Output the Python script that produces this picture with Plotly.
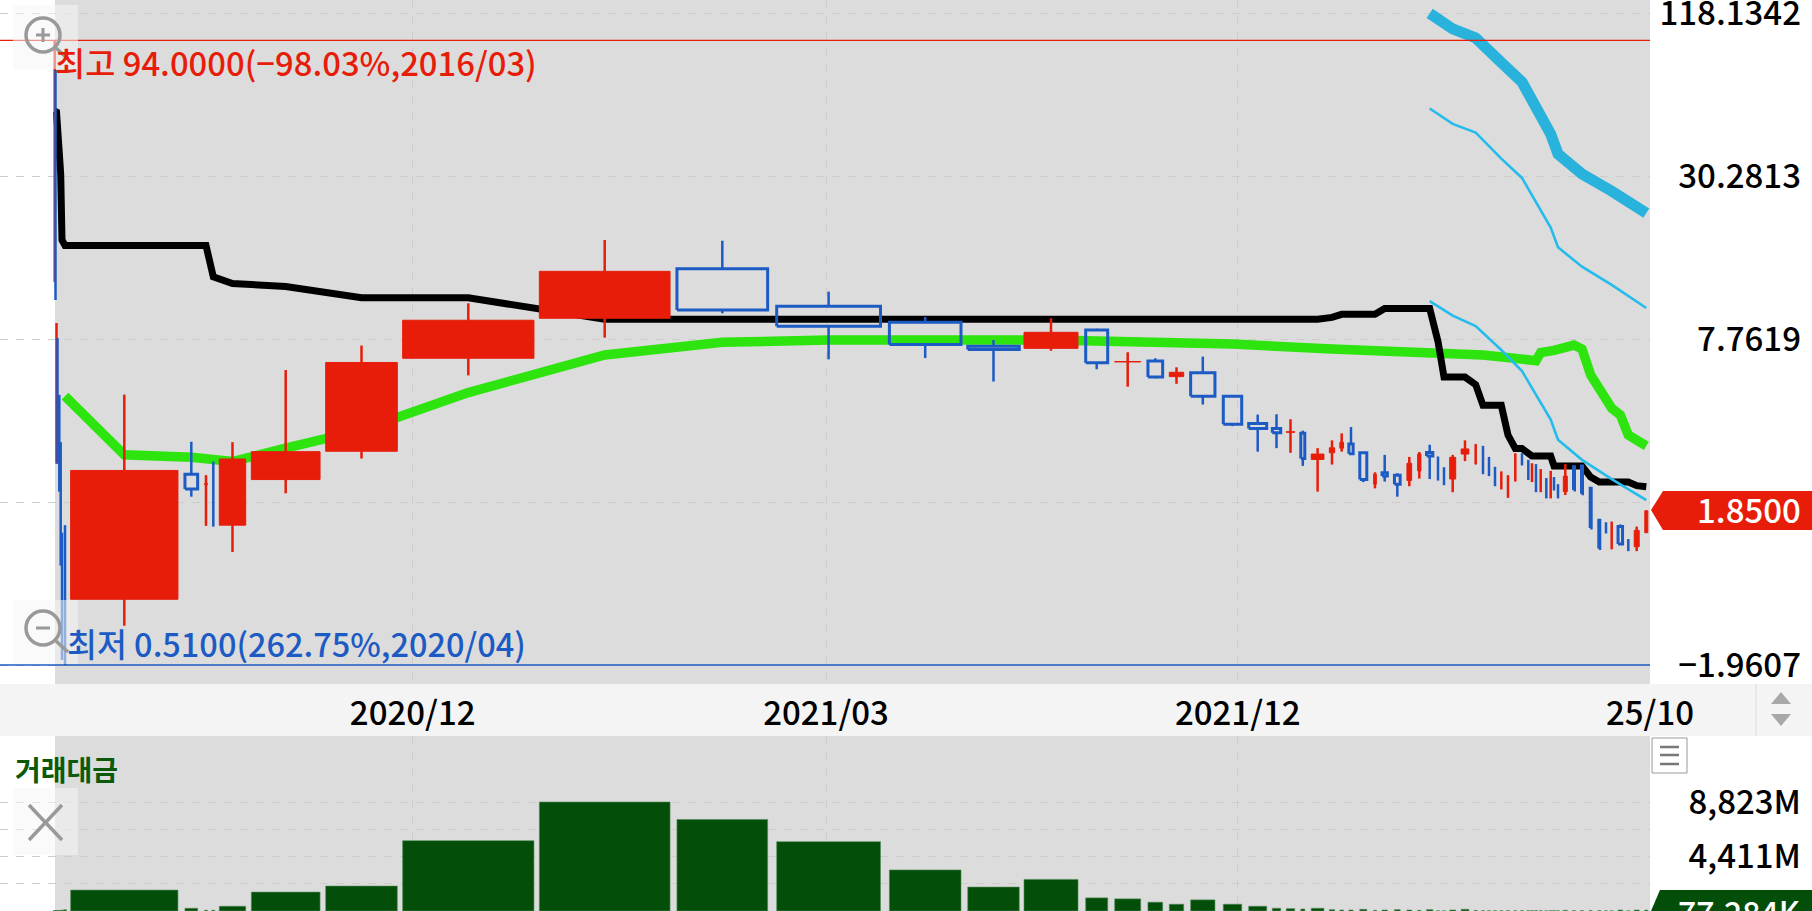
import plotly.graph_objects as go

# ---------- data ----------
# x position / width are the cumulative-turnover scale of the equivolume chart
turnover_pos = [54.7,55.5,56.5,57.5,59.3,60.7,62,65,
    124.3,191.3,206,213.3,232.5,285.7,361.5,468.3,604.7,722.3,828.6,925.2,993.5,1051,1096.7,1127.7,1155.3,1176.5,1202.8,1232.5,1257.7,1276.5,1290.5,1302.8,1317.6,1332,1341.7,1351,1363.3,1375,1384.7,1397.3,1409.3,1419.3,1429.7,1438,1444,1452.7,1465,1475.7,1483,1489,1495,1501.3,1508,1515.3,1522,1528.3,1532,1536,1540.7,1546.3,1550.7,1554,1558,1565.3,1574,1582,1590.7,1599.3,1606,1611.7,1620.3,1628.3,1636.7,1646.3]
turnover_width = [.5,.5,.5,.5,.5,.5,.5,.5,
    107.3,12.7,3,.5,26.4,68.7,71.6,131.3,130.7,90.7,103.8,71.6,51.5,54,22,26,14.7,14.4,24.3,18.4,18,8.4,8.4,4,12.7,5.3,3.7,4.3,7,2.7,5.3,5.7,4.7,3.3,6.3,.5,.5,6,7.7,1.5,.5,.5,.5,.5,.5,.5,.5,.5,.5,.5,.5,.5,.5,.5,.5,4,1,1,1,1,.5,.5,4.5,.5,5,3]
opens = [30,30,4.8,4.2,3.1,2.3,.9,.8,
    .883,2.51,2.30,2.2,1.64,2.40,3.04,6.61,9.23,13.96,10.20,8.93,7.30,7.18,8.37,6.41,6.46,5.67,5.86,4.81,3.83,3.68,3.56,3.53,2.84,3.00,3.12,3.23,3.00,2.31,2.54,2.49,2.38,2.58,3.01,2.66,2.46,2.41,2.97,2.73,2.85,2.68,2.47,2.36,2.25,2.60,2.85,2.61,2.52,2.46,2.34,2.24,2.28,2.33,2.18,2.17,2.67,2.69,2.23,1.71,1.61,1.49,1.62,1.40,1.37,1.54]
closes = [31,28,5.0,4.0,3.0,2.2,.85,.75,
    2.59,2.22,2.32,2.18,2.85,3.03,6.38,9.08,13.66,9.89,8.63,7.41,7.11,8.21,6.37,6.43,5.65,5.88,4.81,3.81,3.68,3.55,3.58,2.86,2.97,3.13,3.28,2.98,2.40,2.51,2.47,2.31,2.75,2.97,2.92,2.62,2.44,2.89,3.10,3.22,2.82,2.66,2.45,2.40,2.28,2.64,2.83,2.59,2.55,2.43,2.38,2.22,2.31,2.31,2.16,2.47,2.20,2.13,1.60,1.35,1.59,1.52,1.40,1.38,1.57,1.85]
highs = [94,73.4,8.87,7.83,4.87,3.28,1.54,1.64,
    4.88,3.29,2.49,2.79,3.28,5.99,7.35,10.46,17.75,17.64,11.53,9.33,7.70,9.23,8.46,6.95,6.61,6.13,6.70,4.85,4.13,4.14,3.97,3.61,3.12,3.33,3.53,3.72,3.01,2.55,2.95,2.53,2.90,3.02,3.21,2.91,2.66,2.95,3.33,3.22,3.18,2.90,2.67,2.57,2.49,2.99,2.99,2.83,2.75,2.73,2.62,2.43,2.58,2.45,2.31,2.73,2.67,2.69,2.23,1.71,1.68,1.69,1.65,1.46,1.62,1.85]
lows = [12.5,10.75,2.74,2.74,2.17,1.17,.532,.51,
    .708,2.08,1.63,1.62,1.31,2.14,2.86,5.73,7.85,9.62,6.55,6.62,5.44,7.04,6.03,5.21,5.59,5.34,4.49,3.75,3.03,3.12,3.00,2.69,2.17,2.72,3.03,2.97,2.35,2.23,2.36,2.08,2.27,2.42,2.41,2.38,2.29,2.16,2.80,2.73,2.51,2.47,2.27,2.21,2.06,2.36,2.70,2.39,2.35,2.16,2.16,2.05,2.05,2.19,2.05,2.11,2.20,2.13,1.60,1.35,1.53,1.34,1.39,1.32,1.32,1.54]
turnover_m = [30,30,30,30,40,40,60,100,
    1691,220,60,60,384,1528,2018,5694,8823,7410,5613,3325,1936,2557,1062,980,711,547,899,547,384,220,190,160,220,109,82,82,136,54,82,109,82,54,109,15,15,82,136,54,25,20,20,20,25,20,25,20,20,25,20,15,20,20,15,54,30,30,30,30,15,15,82,15,82,77]

black_idx = [0,2,5,6,7,10,11,12,13,14,15,16,32,33,34,37,38,42,43,44,46,47,48,51,52,53,54,56,60,61,65,66,67,71,72,73]
black_val = [52.1,51.7,30.8,17.75,16.95,16.95,13.05,12.34,12.03,10.95,10.95,9.16,9.16,9.30,9.54,9.54,10.02,10.02,7.60,5.65,5.65,5.30,4.46,4.46,3.48,3.11,3.11,2.92,2.92,2.69,2.69,2.45,2.35,2.35,2.28,2.26]
green_idx = [7,8,9,12,13,14,15,16,17,18,21,22,27,33,48,57,58,61,64,65,66,69,70,71,73]
green_val = [4.82,2.95,2.89,2.79,3.12,3.63,4.96,6.79,7.55,7.70,7.70,7.64,7.44,7.14,6.79,6.48,6.93,7.06,7.38,7.14,5.75,4.35,4.12,3.48,3.18]
cyan_idx = [42,45,47,51,54,60,62,65,69,73]
cyan_thick_val = [117.8,103.4,95.9,78.2,66.4,43.0,36.4,30.8,26.7,22.2]
cyan_upper_val = [53.2,46.8,43.5,35.0,29.8,19.7,16.7,14.2,12.2,10.06]
cyan_lower_val = [10.66,9.44,8.65,7.08,5.94,3.96,3.35,2.83,2.41,2.02]

price_ticks = [118.1342,30.2813,7.7619,1.9895,0.51]
price_labels = ["118.1342","30.2813","7.7619","","−1.9607"]
turnover_ticks = [8823,6617,4411,2206]
turnover_labels = ["8,823M","","4,411M",""]
date_ticks = [412.7,826,1237.8,1650]
date_labels = ["2020/12","2021/03","2021/12","25/10"]

# ---------- style ----------
W, H = 1812, 911
FONT = "Noto Sans CJK KR"
RED, BLUE, GREEN, DGREEN = "#E71D0A", "#1C5AC4", "#2DE40E", "#034F0A"
GRID, GRAY = "#CDCDCD", "#DCDCDC"
PX = lambda x: x / W
PY = lambda y: 1 - y / H

def candles(rising):
    bx, by, wx, wy = [], [], [], []
    for x, w, o, c, hi, lo in zip(turnover_pos, turnover_width, opens, closes, highs, lows):
        if (c >= o) != rising:
            continue
        top, bot = max(o, c), min(o, c)
        l, r = x - w / 2, x + w / 2
        if w < 1:  # hairline sessions: wick only
            wx += [x, x, None]
            wy += [hi, lo, None]
            continue
        bx += [l, r, r, l, l, None]
        by += [bot, bot, top, top, bot, None]
        wx += [x, x, None, x, x, None]
        wy += [hi, top, None, bot, lo, None]
    return bx, by, wx, wy

fig = go.Figure()
line_x = lambda idx: [turnover_pos[i] for i in idx]
def add_line(idx, val, color, width):
    fig.add_trace(go.Scatter(x=line_x(idx), y=val, mode="lines", line=dict(color=color, width=width, simplify=False), hoverinfo="skip"))

add_line(green_idx, green_val, GREEN, 9.5)
add_line(black_idx, black_val, "#000000", 7)
add_line(cyan_idx, cyan_thick_val, "#29B3DC", 11)
add_line(cyan_idx, cyan_upper_val, "#25BCEB", 2.6)
add_line(cyan_idx, cyan_lower_val, "#25BCEB", 2.6)

# highest / lowest reference lines
fig.add_trace(go.Scatter(x=[0, 1650], y=[max(highs)] * 2, mode="lines", line=dict(color=RED, width=1.2), hoverinfo="skip"))
fig.add_trace(go.Scatter(x=[0, 1650], y=[min(lows)] * 2, mode="lines", line=dict(color=BLUE, width=1.5), hoverinfo="skip"))

for rising, col in ((True, RED), (False, BLUE)):
    bx, by, wx, wy = candles(rising)
    fig.add_trace(go.Scatter(x=wx, y=wy, mode="lines", line=dict(color=col, width=2.5, simplify=False), hoverinfo="skip"))
    fig.add_trace(go.Scatter(x=bx, y=by, mode="lines",
                             line=dict(color=col, width=1 if rising else 3, simplify=False),
                             fill="toself" if rising else "none",
                             fillcolor=col if rising else None, hoverinfo="skip"))

fig.add_trace(go.Bar(x=turnover_pos, y=turnover_m, width=[max(w, 3) for w in turnover_width],
                     marker=dict(color=DGREEN, line=dict(color="#4E8A55", width=0.6)),
                     xaxis="x2", yaxis="y2", hoverinfo="skip"))

# ---------- chrome (screen furniture) ----------
shapes = []
def rect(x0, y0, x1, y1, fill, line=None, width=0, layer="above"):
    shapes.append(dict(type="rect", xref="paper", yref="paper", x0=PX(x0), x1=PX(x1), y0=PY(y0), y1=PY(y1),
                       fillcolor=fill, line=dict(color=line or fill, width=width), layer=layer))
def seg(x0, y0, x1, y1, color, width):
    shapes.append(dict(type="line", xref="paper", yref="paper", x0=PX(x0), x1=PX(x1), y0=PY(y0), y1=PY(y1),
                       line=dict(color=color, width=width), layer="above"))
def poly(points, fill):
    path = "M " + " L ".join(f"{PX(a):.5f} {PY(b):.5f}" for a, b in points) + " Z"
    shapes.append(dict(type="path", xref="paper", yref="paper", path=path, fillcolor=fill, line=dict(color=fill, width=0), layer="above"))

rect(55, 0, 1650, 684, GRAY, layer="below")
rect(55, 736, 1650, 911, GRAY, layer="below")
rect(0, 684, W, 736, "#F4F4F4", layer="below")
seg(1756, 684, 1756, 736, "#DDDDDD", 1)
poly([(1781, 692), (1771, 704), (1791, 704)], "#A8A8A8")
poly([(1771, 714), (1791, 714), (1781, 726)], "#A8A8A8")

# zoom buttons
for top, cy, plus in ((5, 35, True), (600, 628, False)):
    rect(13, top, 78, top + 64, "rgba(245,245,245,0.55)")
    shapes.append(dict(type="circle", xref="paper", yref="paper", x0=PX(26), x1=PX(60), y0=PY(cy - 17), y1=PY(cy + 17),
                       line=dict(color="#999999", width=3.5), layer="above"))
    seg(56, cy + 13, 68, cy + 24, "#999999", 3.5)
    seg(36, cy, 50, cy, "#999999", 3)
    if plus:
        seg(43, cy - 7, 43, cy + 7, "#999999", 3)
# close button
rect(13, 788, 78, 855, "rgba(245,245,245,0.55)")
seg(29, 805, 62, 840, "#999999", 3.5)
seg(62, 805, 29, 840, "#999999", 3.5)
# menu button
rect(1652, 738, 1687, 773, "#FFFFFF", "#999999", 1)
for y in (747, 755, 764):
    seg(1660, y, 1679, y, "#777777", 2.5)
# value tags
poly([(1651, 510), (1663, 491), (1812, 491), (1812, 530), (1663, 530)], RED)
poly([(1651, 911), (1660, 890), (1812, 890), (1812, 911)], DGREEN)

def text(x, y, s, color, size, anchor="left", weight=400):
    return dict(x=PX(x), y=PY(y), xref="paper", yref="paper", text=s, showarrow=False, xanchor=anchor, yanchor="middle",
                font=dict(family=FONT, size=size, color=color, weight=weight))

annotations = [
    text(53, 61, "최고 94.0000(−98.03%,2016/03)", RED, 32.8, weight=500),
    text(65, 642, "최저 0.5100(262.75%,2020/04)", BLUE, 32.5, weight=500),
    text(13, 769, "거래대금", "#0A5A0A", 28, weight=700),
    text(1803, 509, "1.8500", "#FFFFFF", 33, "right", 500),
    text(1803, 911, "77,284K", "#FFFFFF", 32, "right", 500),
]

tick_font = dict(family=FONT, size=33, color="#000000", weight=500)
common = dict(automargin=False, zeroline=False, showline=False, showgrid=True, gridcolor=GRID, griddash="8px,8px", gridwidth=1,
              tickmode="array", ticklabeloverflow="allow")
fig.update_layout(
    width=W, height=H, margin=dict(l=0, r=0, t=0, b=0, autoexpand=False), autosize=False,
    paper_bgcolor="rgba(255,255,255,1)", plot_bgcolor="rgba(0,0,0,0)",
    showlegend=False, barmode="overlay", shapes=shapes, annotations=annotations,
    xaxis=dict(domain=[0, 1650 / W], range=[0, 1650], tickvals=date_ticks, ticktext=date_labels,
               tickfont=tick_font, ticks="outside", ticklen=0, tickcolor="rgba(0,0,0,0)", anchor="y", **common),
    yaxis=dict(domain=[1 - 684 / H, 1], type="log", range=[-0.3613, 2.1196],
               tickvals=price_ticks, ticktext=price_labels, tickfont=tick_font, ticklen=0,
               anchor="free", position=1801 / W, side="left", **common),
    xaxis2=dict(domain=[0, 1650 / W], range=[0, 1650], tickvals=date_ticks, ticktext=["", "", "", ""],
                ticklen=0, anchor="y2", **common),
    yaxis2=dict(domain=[0, 175 / H], range=[0, 14165], tickvals=turnover_ticks, ticktext=turnover_labels,
                tickfont=dict(family=FONT, size=33, color="#000000", weight=500), ticklen=0,
                anchor="free", position=1801 / W, side="left", **common),
)

fig.write_html("out.html", config=dict(displayModeBar=False),
               post_script="document.body.style.margin='0';document.body.style.overflow='hidden';")
